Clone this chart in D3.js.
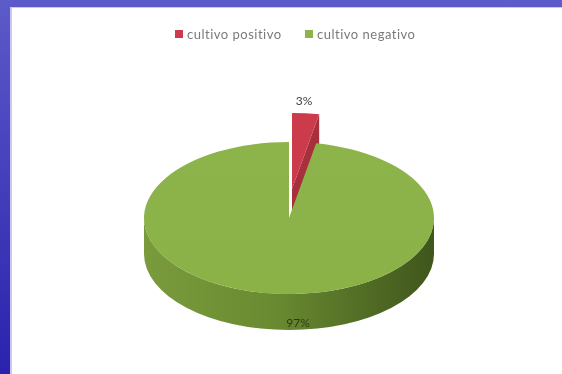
<html>
<head>
<script src="https://d3js.org/d3.v7.min.js"></script>
<style>
body { margin: 0; overflow: hidden; }
svg { display: block; filter: blur(0.5px); }
text { font-family: Lato, 'Liberation Sans', sans-serif; }
</style>
</head>
<body>
<svg width="562" height="374"></svg>
<script>
// data
var categories = ["cultivo positivo", "cultivo negativo"];
var values = [3, 97];
var percentLabels = ["3%", "97%"];

var svg = d3.select("svg");
var defs = svg.append("defs");

// slide frame
var bg = defs.append("linearGradient").attr("id", "bg").attr("x1", 0).attr("y1", 0).attr("x2", 0).attr("y2", 1);
bg.append("stop").attr("offset", "0%").attr("stop-color", "#5d5ac9");
bg.append("stop").attr("offset", "100%").attr("stop-color", "#2a22ad");
svg.append("rect").attr("width", 562).attr("height", 374).attr("fill", "url(#bg)");
svg.append("rect").attr("x", 10).attr("y", 7).attr("width", 552).attr("height", 367).attr("fill", "#c9c8f2");
svg.append("rect").attr("x", 12).attr("y", 8).attr("width", 550).attr("height", 366).attr("fill", "#ffffff");

var color = d3.scaleOrdinal().domain(categories).range(["#cc3b4b", "#8db44b"]);
var sideDark = d3.scaleOrdinal().domain(categories).range(["#a8303c", "#5a7a2c"]);

// side gradient for the green wall
var sg = defs.append("linearGradient").attr("id", "side").attr("x1", 0).attr("y1", 0).attr("x2", 1).attr("y2", 0);
sg.append("stop").attr("offset", "0%").attr("stop-color", "#7a9b3c");
sg.append("stop").attr("offset", "45%").attr("stop-color", "#6a8a31");
sg.append("stop").attr("offset", "100%").attr("stop-color", "#3f561c");
var tg = defs.append("linearGradient").attr("id", "top").attr("x1", 0).attr("y1", 0).attr("x2", 0).attr("y2", 1);
tg.append("stop").attr("offset", "0%").attr("stop-color", "#8cb44b");
tg.append("stop").attr("offset", "100%").attr("stop-color", "#8ab247");

var cx = 289, cy = 218, rx = 145, ry = 76, depth = 36;
var explode = [[3, -29], [0, 0]];

var pie = d3.pie().sort(null).value(function (d) { return d; });
var arcs = pie(values);

function pt(a, x0, y0) {
  return [x0 + rx * Math.sin(a), y0 - ry * Math.cos(a)];
}
function topPath(d, x0, y0) {
  var p0 = pt(d.startAngle, x0, y0), p1 = pt(d.endAngle, x0, y0);
  var large = (d.endAngle - d.startAngle) > Math.PI ? 1 : 0;
  return "M" + x0 + "," + y0 + "L" + p0 + "A" + rx + "," + ry + " 0 " + large + " 1 " + p1 + "Z";
}
function sidePath(d, x0, y0) {
  var a0 = Math.max(d.startAngle, Math.PI / 2), a1 = Math.min(d.endAngle, 3 * Math.PI / 2);
  if (a1 <= a0) return null;
  var p0 = pt(a0, x0, y0), p1 = pt(a1, x0, y0);
  return "M" + p0 + "A" + rx + "," + ry + " 0 0 1 " + p1 +
    "L" + p1[0] + "," + (p1[1] + depth) +
    "A" + rx + "," + ry + " 0 0 0 " + p0[0] + "," + (p0[1] + depth) + "Z";
}
function cutPath(a, x0, y0) {
  var p = pt(a, x0, y0);
  return "M" + x0 + "," + y0 + "L" + p + "L" + p[0] + "," + (p[1] + depth) +
    "L" + x0 + "," + (y0 + depth) + "Z";
}

// exploded red slice first (it sits behind)
arcs.forEach(function (d, i) {
  var x0 = cx + explode[i][0], y0 = cy + explode[i][1];
  var g = svg.append("g");
  if (i === 0) {
    g.append("path").attr("d", cutPath(d.endAngle, x0, y0)).attr("fill", sideDark(categories[i]));
    g.append("path").attr("d", topPath(d, x0, y0)).attr("fill", color(categories[i]));
  } else {
    var s = sidePath(d, x0, y0);
    if (s) g.append("path").attr("d", s).attr("fill", "url(#side)");
    g.append("path").attr("d", topPath(d, x0, y0)).attr("fill", "url(#top)");
  }
});

// percent labels
svg.append("text").attr("x", 304).attr("y", 105).attr("text-anchor", "middle")
  .attr("font-size", 12).attr("fill", "#404040").text(percentLabels[0]);
svg.append("text").attr("x", 298).attr("y", 327).attr("text-anchor", "middle")
  .attr("font-size", 12).attr("fill", "#2e3b17").text(percentLabels[1]);

// legend
var legend = svg.append("g").attr("transform", "translate(175,29)");
var lx = [0, 130];
categories.forEach(function (c, i) {
  legend.append("rect").attr("x", lx[i]).attr("y", 1).attr("width", 8).attr("height", 8).attr("fill", color(c));
  legend.append("text").attr("x", lx[i] + 12).attr("y", 9.5).attr("font-size", 13)
    .attr("letter-spacing", 0.5).attr("fill", "#7a7a7a").text(c);
});
</script>
</body>
</html>
